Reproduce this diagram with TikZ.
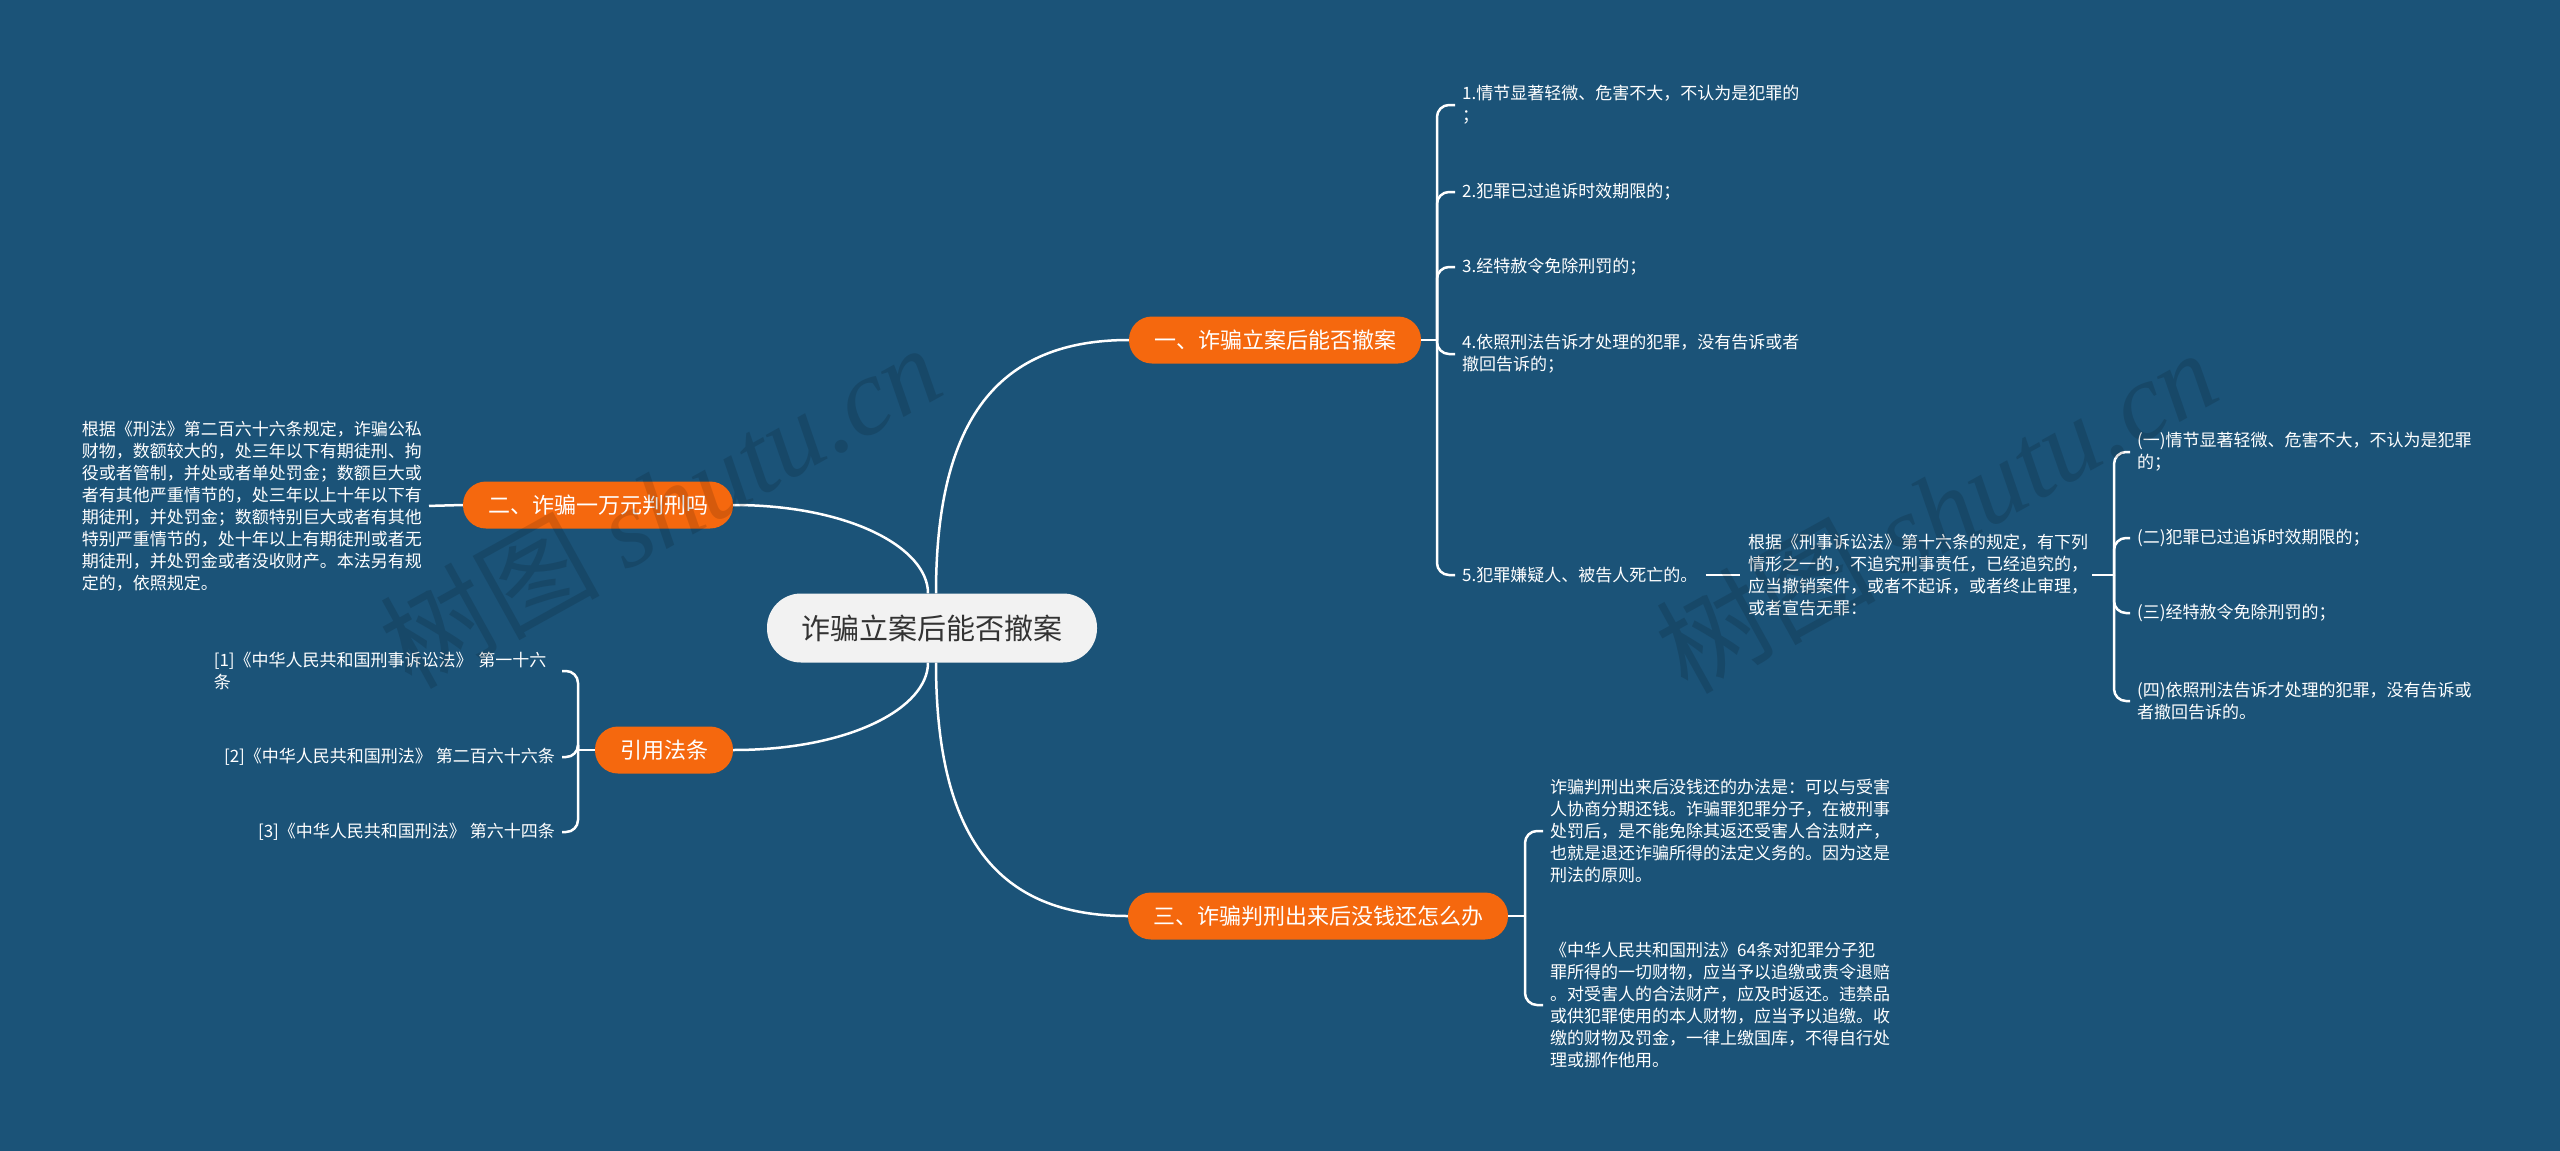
\documentclass[tikz,border=0pt]{standalone}
\usepackage{fontspec}
\setmainfont{Noto Sans CJK SC}
\newfontfamily\wmserif{Liberation Serif}
\definecolor{bg}{RGB}{27,83,120}
\definecolor{orng}{RGB}{245,104,14}
\definecolor{rootfill}{RGB}{242,242,242}
\definecolor{roottext}{RGB}{51,51,51}
\begin{document}
\begin{tikzpicture}[x=1pt,y=-1pt,
  rootnode/.style={fill=rootfill, text=roottext, rounded corners=34pt, minimum width=330pt, minimum height=69pt, inner sep=0pt, font=\fontsize{29}{34}\selectfont},
  topic/.style={fill=orng, text=white, rounded corners=23pt, minimum height=47pt, inner xsep=25pt, font=\fontsize{22}{26}\selectfont},
  leaf/.style={text=white, align=left, inner xsep=4pt, inner ysep=2pt, font=\fontsize{17}{22}\selectfont},
  conn/.style={draw=white, line width=2.5pt},
  brk/.style={draw=white, line width=2.5pt, rounded corners=12pt},
  wm/.style={opacity=0.13, text=black, rotate=29, font=\fontsize{110}{120}\selectfont}
]
\fill[bg] (0,0) rectangle (2560,1151);
\useasboundingbox (0,0) rectangle (2560,1151);

% main nodes
\node[rootnode] (root) at (932,628) {诈骗立案后能否撤案};
\node[topic] (t1) at (1275,340) {一、诈骗立案后能否撤案};
\node[topic] (t2) at (598,505) {二、诈骗一万元判刑吗};
\node[topic] (t3) at (664,750) {引用法条};
\node[topic] (t4) at (1318,916) {三、诈骗判刑出来后没钱还怎么办};

% root connectors
\draw[conn] ([xshift=4pt]root.north) .. controls +(0,-175) and +(-130,0) .. (t1.west);
\draw[conn] ([xshift=-4pt]root.north) .. controls +(0,-45) and +(117,0) .. (t2.east);
\draw[conn] ([xshift=-4pt]root.south) .. controls +(0,45) and +(117,0) .. (t3.east);
\draw[conn] ([xshift=4pt]root.south) .. controls +(0,175) and +(-130,0) .. (t4.west);

% branch one
\node[leaf, anchor=west] (a1) at (1458,105) {1.情节显著轻微、危害不大，不认为是犯罪的\\；};
\node[leaf, anchor=west] (a2) at (1458,192) {2.犯罪已过追诉时效期限的；};
\node[leaf, anchor=west] (a3) at (1458,267) {3.经特赦令免除刑罚的；};
\node[leaf, anchor=west] (a4) at (1458,354) {4.依照刑法告诉才处理的犯罪，没有告诉或者\\撤回告诉的；};
\node[leaf, anchor=west] (a5) at (1458,575) {5.犯罪嫌疑人、被告人死亡的。};
\coordinate (s1) at (1437,340);
\draw[conn] (t1.east) -- (s1);
\foreach \n in {a1,a2,a3,a4,a5} {\draw[brk] (s1) |- ([xshift=-3pt]\n.west);}

\node[leaf, anchor=west] (a5s) at (1744,575) {根据《刑事诉讼法》第十六条的规定，有下列\\情形之一的，不追究刑事责任，已经追究的，\\应当撤销案件，或者不起诉，或者终止审理，\\或者宣告无罪：};
\draw[conn, shorten <=4pt, shorten >=4pt] (a5.east) -- (a5s.west);

\node[leaf, anchor=west] (b1) at (2133,452) {(一)情节显著轻微、危害不大，不认为是犯罪\\的；};
\node[leaf, anchor=west] (b2) at (2133,538) {(二)犯罪已过追诉时效期限的；};
\node[leaf, anchor=west] (b3) at (2133,613) {(三)经特赦令免除刑罚的；};
\node[leaf, anchor=west] (b4) at (2133,701) {(四)依照刑法告诉才处理的犯罪，没有告诉或\\者撤回告诉的。};
\coordinate (s2) at (2114,575);
\draw[conn] (a5s.east) -- (s2);
\foreach \n in {b1,b2,b3,b4} {\draw[brk] (s2) |- ([xshift=-3pt]\n.west);}

% branch two
\node[leaf, anchor=east] (e1) at (426,506) {根据《刑法》第二百六十六条规定，诈骗公私\\财物，数额较大的，处三年以下有期徒刑、拘\\役或者管制，并处或者单处罚金；数额巨大或\\者有其他严重情节的，处三年以上十年以下有\\期徒刑，并处罚金；数额特别巨大或者有其他\\特别严重情节的，处十年以上有期徒刑或者无\\期徒刑，并处罚金或者没收财产。本法另有规\\定的，依照规定。};
\draw[conn, shorten <=3pt] (e1.east) -- (t2.west);

% citations
\node[leaf, anchor=east, text width=341pt] (r1) at (559,671) {[1]《中华人民共和国刑事诉讼法》 第一十六\\条};
\node[leaf, anchor=east] (r2) at (559,757) {[2]《中华人民共和国刑法》 第二百六十六条};
\node[leaf, anchor=east] (r3) at (559,832) {[3]《中华人民共和国刑法》 第六十四条};
\coordinate (s3) at (578,750);
\draw[conn] (t3.west) -- (s3);
\foreach \n in {r1,r2,r3} {\draw[brk] (s3) |- ([xshift=3pt]\n.east);}

% branch three
\node[leaf, anchor=west] (d1) at (1546,831) {诈骗判刑出来后没钱还的办法是：可以与受害\\人协商分期还钱。诈骗罪犯罪分子，在被刑事\\处罚后，是不能免除其返还受害人合法财产，\\也就是退还诈骗所得的法定义务的。因为这是\\刑法的原则。};
\node[leaf, anchor=west] (d2) at (1546,1005) {《中华人民共和国刑法》64条对犯罪分子犯\\罪所得的一切财物，应当予以追缴或责令退赔\\。对受害人的合法财产，应及时返还。违禁品\\或供犯罪使用的本人财物，应当予以追缴。收\\缴的财物及罚金，一律上缴国库，不得自行处\\理或挪作他用。};
\coordinate (s4) at (1525,916);
\draw[conn] (t4.east) -- (s4);
\foreach \n in {d1,d2} {\draw[brk] (s4) |- ([xshift=-3pt]\n.west);}

% watermarks
\node[wm] (w1) at (660,505) {树图 {\wmserif\itshape shutu.cn}};
\node[wm] (w2) at (1936,510) {树图 {\wmserif\itshape shutu.cn}};
\end{tikzpicture}
\end{document}
